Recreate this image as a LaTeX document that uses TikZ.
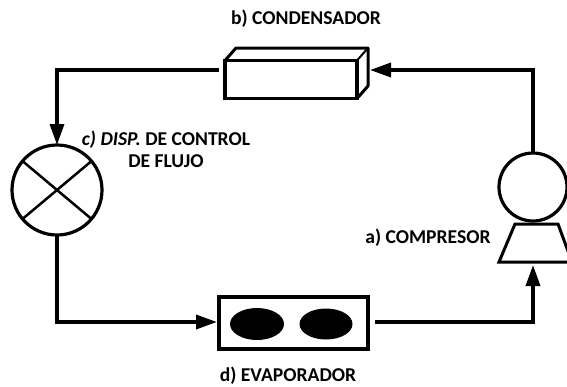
\documentclass[tikz,border=0pt]{standalone}
\usepackage{fontspec}
\setmainfont{Carlito}
\usetikzlibrary{arrows.meta,shapes.geometric}
\tikzset{
  x=1pt,y=-1pt,
  unit/.style={draw=black,line width=3.2pt,inner sep=0pt,outer sep=0pt},
  pipe/.style={line width=3.4pt,line join=miter},
  flow/.style={pipe,-{Triangle[length=21pt,width=14pt]}},
  lab/.style={inner sep=0pt,font=\fontsize{19.6}{22}\selectfont\bfseries,align=center,text=black},
  blob/.style={ellipse,fill=black,draw=none,inner sep=0pt},
}
\begin{document}
\begin{tikzpicture}
\useasboundingbox (0,0) rectangle (567,386);
% condenser
\node[unit,minimum width=132pt,minimum height=38pt] (cond) at (291,79.5) {};
\draw[line width=3pt,line join=round] (cond.north west) -- (236,48) -- (368,48) -- (368,86) -- (cond.south east);
\draw[line width=2pt] (368,48) -- (cond.north east);
% valve
\node[unit,circle,minimum size=90pt] (valve) at (57,190) {};
\draw[line width=2.5pt] (valve.140) -- (valve.320);
\draw[line width=2.5pt] (valve.40) -- (valve.220);
% compressor
\node[unit,circle,minimum size=68pt] (motor) at (533,187) {};
\draw[line width=3pt,line join=miter] (515,224) -- (558,224) -- (572,262) -- (499,262) -- cycle;
\coordinate (compin) at (533,265);
% evaporator
\node[unit,minimum width=149pt,minimum height=52pt] (evap) at (293.5,323) {};
\node[blob,minimum width=54pt,minimum height=32pt] (e1) at (257,324) {};
\node[blob,minimum width=53pt,minimum height=31pt] (e2) at (326,324) {};
% connectors
\coordinate (condin) at (370,70);
\coordinate (condout) at (219,70);
\coordinate (evapin) at (217,322);
\coordinate (evapout) at (375,322);
\coordinate (c1) at (533,70);
\coordinate (c2) at (57,70);
\coordinate (c3) at (57,322);
\coordinate (c4) at (533,322);
\draw[flow] (motor.north) -- (c1) -- (condin);
\draw[flow] (condout) -- (c2) -- (valve.north);
\draw[flow] (valve.south) -- (c3) -- (evapin);
\draw[flow] (evapout) -- (c4) -- (compin);
% labels
\node[lab] (lb) at (306,19) {b) CONDENSADOR};
\node[lab] (lc) at (166,140) {\textit{c)} \textit{DISP.} DE CONTROL};
\node[lab] (lc2) at (166,161) {DE FLUJO};
\node[lab] (la) at (428,238) {a) COMPRESOR};
\node[lab] (ld) at (288,375.5) {d) EVAPORADOR};
\end{tikzpicture}
\end{document}
